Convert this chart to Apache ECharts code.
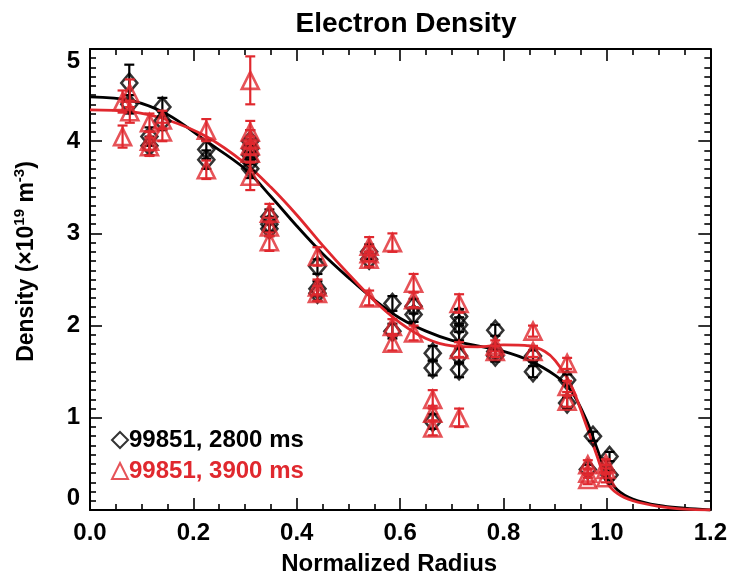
<!DOCTYPE html>
<html>
<head>
<meta charset="utf-8">
<script src="https://cdn.jsdelivr.net/npm/echarts@6/dist/echarts.min.js"></script>
<style>html,body{margin:0;padding:0;background:#fff}#c{width:730px;height:582px}</style>
</head>
<body>
<div id="c"></div>
<script>
// ---- data ----
const xTicks = [0.0, 0.2, 0.4, 0.6, 0.8, 1.0, 1.2];
const yTicks = [0, 1, 2, 3, 4, 5];

const blackName = '99851, 2800 ms';
const redName = '99851, 3900 ms';

const blackX = [0.076,0.076, 0.115,0.115, 0.14,0.14, 0.225,0.225, 0.31,0.31,0.31,0.31,0.31, 0.347,0.347,0.347, 0.44,0.44,0.44, 0.54,0.54, 0.585,0.585, 0.626,0.626, 0.663,0.663,0.663, 0.714,0.714,0.714,0.714,0.714, 0.784,0.784,0.784, 0.857,0.857, 0.923,0.923, 0.973, 0.963, 1.005,1.005];
const blackY = [4.63,4.40, 4.05,3.95, 4.37,4.22, 3.91,3.80, 4.00,3.92,3.85,3.78,3.70, 3.18,3.10,3.05, 2.64,2.40,2.35, 2.80,2.72, 2.24,1.94, 2.21,2.12, 1.70,1.54,0.96, 2.10,2.01,1.92,1.67,1.52, 1.95,1.72,1.67, 1.67,1.50, 1.41,1.16, 0.80, 0.44, 0.58,0.38];
const blackErr = [0.2,0.1, 0.1,0.1, 0.1,0.1, 0.1,0.1, 0.12,0.1,0.1,0.1,0.1, 0.08,0.08,0.08, 0.08,0.08,0.08, 0.08,0.08, 0.08,0.08, 0.08,0.08, 0.08,0.08,0.08, 0.08,0.08,0.08,0.08,0.08, 0.06,0.06,0.06, 0.06,0.06, 0.06,0.06, 0.05, 0.05, 0.05,0.05];

const redX = [0.063,0.063, 0.077,0.077, 0.115,0.115,0.115, 0.14,0.14, 0.225,0.225, 0.31,0.31,0.31,0.31,0.31,0.31, 0.347,0.347,0.347, 0.44,0.44,0.44, 0.54,0.54,0.54,0.54, 0.585,0.585,0.585, 0.626,0.626,0.626, 0.663,0.663,0.663, 0.714,0.714,0.714, 0.784,0.784, 0.857,0.857, 0.923,0.923,0.923, 0.963,0.963,0.963, 0.998,0.998,0.998];
const redY = [4.43,4.05, 4.52,4.32, 4.20,4.00,3.94, 4.23,4.10, 4.12,3.69, 4.66,4.10,4.02,3.95,3.87,3.62, 3.22,3.07,2.91, 2.75,2.42,2.35, 2.86,2.78,2.72,2.30, 2.90,1.99,1.81, 2.46,2.28,1.92, 1.20,1.05,0.89, 2.24,1.74,1.00, 1.78,1.72, 1.94,1.72, 1.59,1.34,1.18, 0.49,0.40,0.33, 0.50,0.44,0.35];
const redErr = [0.12,0.12, 0.15,0.12, 0.1,0.1,0.1, 0.1,0.1, 0.12,0.1, 0.26,0.12,0.1,0.1,0.1,0.15, 0.1,0.1,0.1, 0.1,0.08,0.08, 0.1,0.08,0.08,0.08, 0.1,0.08,0.08, 0.1,0.08,0.08, 0.1,0.08,0.08, 0.1,0.08,0.1, 0.06,0.06, 0.06,0.06, 0.06,0.06,0.06, 0.05,0.05,0.05, 0.05,0.05,0.05];

const blackFitX = [0,0.08,0.15,0.225,0.3,0.35,0.4,0.45,0.5,0.55,0.6,0.65,0.7,0.75,0.8,0.85,0.9,0.93,0.96,0.98,1.0,1.02,1.05,1.1,1.15,1.2];
const blackFitY = [4.48,4.44,4.29,4.00,3.70,3.40,3.08,2.78,2.52,2.28,2.08,1.94,1.84,1.78,1.72,1.62,1.46,1.30,0.98,0.68,0.38,0.22,0.12,0.05,0.02,0.0];
const redFitX = [0,0.08,0.15,0.225,0.3,0.35,0.4,0.45,0.5,0.55,0.6,0.65,0.7,0.75,0.8,0.85,0.88,0.9,0.93,0.96,0.98,1.0,1.02,1.05,1.1,1.15,1.2];
const redFitY = [4.34,4.32,4.23,4.05,3.76,3.50,3.20,2.87,2.56,2.27,2.03,1.86,1.78,1.77,1.79,1.78,1.72,1.62,1.36,0.92,0.60,0.30,0.18,0.10,0.04,0.01,0.0];

// ---- styling ----
const RED = '#e0282e';
const BLACK = '#000000';
const FONT = "'Liberation Sans', Arial, sans-serif";

function zip3(a, b, c) { return a.map((v, i) => [v, b[i], c[i]]); }
function zip2(a, b) { return a.map((v, i) => [v, b[i]]); }

function errBar(color) {
  return function (params, api) {
    const x = api.value(0), y = api.value(1), e = api.value(2);
    const t = api.coord([x, y + e]);
    const b = api.coord([x, y - e]);
    const hw = 5;
    const st = { stroke: color, lineWidth: 2.2 };
    return {
      type: 'group',
      children: [
        { type: 'line', shape: { x1: t[0], y1: t[1], x2: b[0], y2: b[1] }, style: st },
        { type: 'line', shape: { x1: t[0] - hw, y1: t[1], x2: t[0] + hw, y2: t[1] }, style: st },
        { type: 'line', shape: { x1: b[0] - hw, y1: b[1], x2: b[0] + hw, y2: b[1] }, style: st }
      ]
    };
  };
}

const axisCommon = {
  axisLine: { show: true, onZero: false, lineStyle: { color: '#000', width: 2 } },
  axisTick: { show: true, inside: true, length: 12, lineStyle: { color: '#000', width: 1.6 } },
  minorTick: { show: true, length: 6, lineStyle: { color: '#000', width: 1.6 } },
  splitLine: { show: false },
  minorSplitLine: { show: false }
};

const chart = echarts.init(document.getElementById('c'), null, { renderer: 'canvas' });
chart.setOption({
  backgroundColor: '#fff',
  animation: false,
  title: {
    text: 'Electron Density',
    left: 401, top: 5, textAlign: 'center',
    textStyle: { fontFamily: FONT, fontWeight: 'bold', fontSize: 28, color: '#000' }
  },
  grid: { left: 90, right: 17, top: 49, bottom: 72 },
  legend: {
    orient: 'vertical', left: 106, top: 423, itemGap: 7, itemWidth: 16, itemHeight: 16,
    data: [
      { name: blackName, icon: 'diamond', textStyle: { color: BLACK } },
      { name: redName, icon: 'triangle', textStyle: { color: RED } }
    ],
    textStyle: { fontFamily: FONT, fontWeight: 'bold', fontSize: 24, padding: [0, 0, 0, -4] }
  },
  xAxis: [
    Object.assign({}, axisCommon, {
      type: 'value', min: xTicks[0], max: xTicks[xTicks.length - 1], interval: 0.2,
      minorTick: Object.assign({}, axisCommon.minorTick, { splitNumber: 4 }),
      axisLabel: { margin: 11, color: '#000', fontFamily: FONT, fontWeight: 'bold', fontSize: 24,
        formatter: v => v.toFixed(1) },
      name: 'Normalized Radius', nameLocation: 'middle', nameGap: 42,
      nameTextStyle: { fontFamily: FONT, fontWeight: 'bold', fontSize: 24, color: '#000', padding: [0, 22, 0, 0] }
    }),
    Object.assign({}, axisCommon, {
      type: 'value', position: 'top', min: xTicks[0], max: xTicks[xTicks.length - 1], interval: 0.2,
      minorTick: Object.assign({}, axisCommon.minorTick, { splitNumber: 4 }),
      axisLabel: { show: false }
    })
  ],
  yAxis: [
    Object.assign({}, axisCommon, {
      type: 'value', min: yTicks[0], max: yTicks[yTicks.length - 1], interval: 1,
      minorTick: Object.assign({}, axisCommon.minorTick, { splitNumber: 10 }),
      axisLabel: { margin: 10, color: '#000', fontFamily: FONT, fontWeight: 'bold', fontSize: 24,
        verticalAlignMinLabel: 'bottom', verticalAlignMaxLabel: 'top' },
      name: '{n|Density (×10}{s|19}{n| m}{s|-3}{n|)}', nameLocation: 'middle', nameGap: 48,
      nameTextStyle: {
        padding: [0, 0, 0, 36],
        rich: {
          n: { fontFamily: FONT, fontWeight: 'bold', fontSize: 23, color: '#000' },
          s: { fontFamily: FONT, fontWeight: 'bold', fontSize: 15, color: '#000', padding: [0, 0, 15, 0] }
        }
      }
    }),
    Object.assign({}, axisCommon, {
      type: 'value', position: 'right', min: yTicks[0], max: yTicks[yTicks.length - 1], interval: 1,
      minorTick: Object.assign({}, axisCommon.minorTick, { splitNumber: 10 }),
      axisLabel: { show: false }
    })
  ],
  series: [
    { type: 'line', name: 'fitBlack', data: zip2(blackFitX, blackFitY), smooth: 0.35, showSymbol: false,
      symbol: 'none', lineStyle: { color: BLACK, width: 2.8 }, z: 2 },
    { type: 'line', name: 'fitRed', data: zip2(redFitX, redFitY), smooth: 0.35, showSymbol: false,
      symbol: 'none', lineStyle: { color: RED, width: 2.8 }, z: 2 },
    { type: 'custom', name: 'errBlack', data: zip3(blackX, blackY, blackErr), renderItem: errBar(BLACK), z: 3 },
    { type: 'scatter', name: blackName, data: zip2(blackX, blackY), symbol: 'diamond', symbolSize: [16, 19],
      itemStyle: { color: 'rgba(0,0,0,0)', borderColor: BLACK, borderWidth: 2.6 }, z: 4 },
    { type: 'custom', name: 'errRed', data: zip3(redX, redY, redErr), renderItem: errBar(RED), z: 5 },
    { type: 'scatter', name: redName, data: zip2(redX, redY), symbol: 'triangle', symbolSize: [17, 17],
      itemStyle: { color: 'rgba(0,0,0,0)', borderColor: RED, borderWidth: 2.6 }, z: 6 }
  ]
});
</script>
</body>
</html>
